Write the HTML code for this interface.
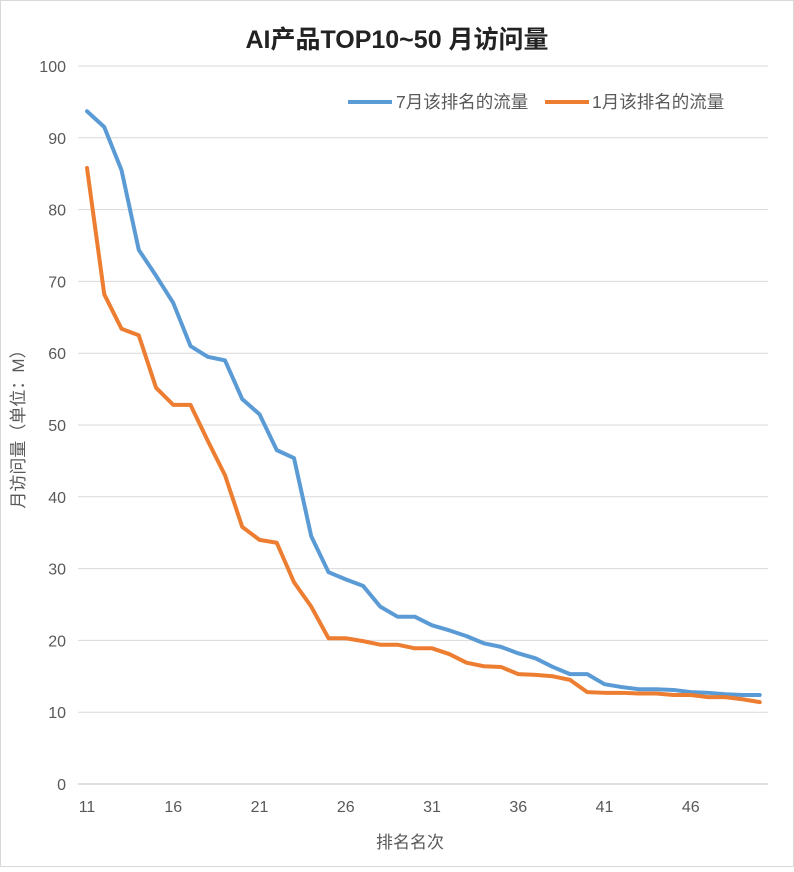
<!DOCTYPE html>
<html><head><meta charset="utf-8"><style>
body{margin:0;background:#fff}
svg text{font-family:"Liberation Sans","Noto Sans CJK SC",sans-serif}
</style></head><body>
<svg width="794" height="867" viewBox="0 0 794 867" xmlns="http://www.w3.org/2000/svg">
<rect x="0.5" y="0.5" width="793" height="866" fill="#fff" stroke="#d9d9d9"/>
<text x="397" y="48" text-anchor="middle" font-size="25" font-weight="bold" fill="#222">AI产品TOP10~50 月访问量</text>
<g id="grid"></g>
<g id="yticks"></g>
<g id="xticks"></g>
<g id="lines"></g>
<text x="410" y="848" text-anchor="middle" font-size="17" fill="#595959">排名名次</text>
<text transform="translate(24,425) rotate(-90)" text-anchor="middle" font-size="17" fill="#595959">月访问量（单位：M）</text>
<g>
<line x1="348" y1="102" x2="392" y2="102" stroke="#5b9bd5" stroke-width="4"/>
<text x="396" y="108" font-size="17.5" fill="#595959">7月该排名的流量</text>
<line x1="545" y1="102" x2="589" y2="102" stroke="#ed7d31" stroke-width="4"/>
<text x="592" y="108" font-size="17.5" fill="#595959">1月该排名的流量</text>
</g>
</svg>
<script>
const ranks=[];for(let r=11;r<=50;r++)ranks.push(r);
const julyValues=[93.7,91.5,85.5,74.4,70.8,67,61,59.5,59,53.6,51.5,46.5,45.4,34.5,29.5,28.5,27.6,24.7,23.3,23.3,22.1,21.4,20.6,19.6,19.1,18.2,17.5,16.3,15.3,15.3,13.9,13.5,13.2,13.2,13.1,12.8,12.7,12.5,12.4,12.4];
const janValues=[85.8,68.2,63.4,62.5,55.2,52.8,52.8,47.8,43,35.8,34,33.6,28.1,24.7,20.3,20.3,19.9,19.4,19.4,18.9,18.9,18.1,16.9,16.4,16.3,15.3,15.2,15,14.5,12.8,12.7,12.7,12.6,12.6,12.4,12.4,12.1,12.1,11.8,11.4];
const yTicks=[0,10,20,30,40,50,60,70,80,90,100];
const xTickLabels=[11,16,21,26,31,36,41,46];
const NS="http://www.w3.org/2000/svg";
const X=r=>87+(r-11)*17.25, Y=v=>784-v*7.18;
const grid=document.getElementById('grid'),yt=document.getElementById('yticks'),xt=document.getElementById('xticks'),lines=document.getElementById('lines');
yTicks.forEach(t=>{
 const l=document.createElementNS(NS,'line');
 l.setAttribute('x1',78);l.setAttribute('x2',768);l.setAttribute('y1',Y(t));l.setAttribute('y2',Y(t));
 l.setAttribute('stroke',t===0?'#bfbfbf':'#d9d9d9');l.setAttribute('stroke-width',1);
 
 
 grid.appendChild(l);
 const tx=document.createElementNS(NS,'text');
 tx.setAttribute('x',66);tx.setAttribute('y',Y(t)+6);tx.setAttribute('text-anchor','end');tx.setAttribute('font-size',16);tx.setAttribute('fill','#595959');
 tx.textContent=t;
 
 
 yt.appendChild(tx);
});
xTickLabels.forEach(r=>{
 const tx=document.createElementNS(NS,'text');
 tx.setAttribute('x',X(r));tx.setAttribute('y',812);tx.setAttribute('text-anchor','middle');tx.setAttribute('font-size',16);tx.setAttribute('fill','#595959');
 tx.textContent=r;
 
 
 xt.appendChild(tx);
});
function drawLine(vals,color,name){
 const p=document.createElementNS(NS,'polyline');
 p.setAttribute('points',vals.map((v,i)=>X(ranks[i])+','+Y(v)).join(' '));
 p.setAttribute('fill','none');p.setAttribute('stroke',color);p.setAttribute('stroke-width',4);p.setAttribute('stroke-linejoin','round');p.setAttribute('stroke-linecap','round');
 
 
 lines.appendChild(p);
}
drawLine(julyValues,'#5b9bd5','july-line');
drawLine(janValues,'#ed7d31','jan-line');
</script>
</body></html>
